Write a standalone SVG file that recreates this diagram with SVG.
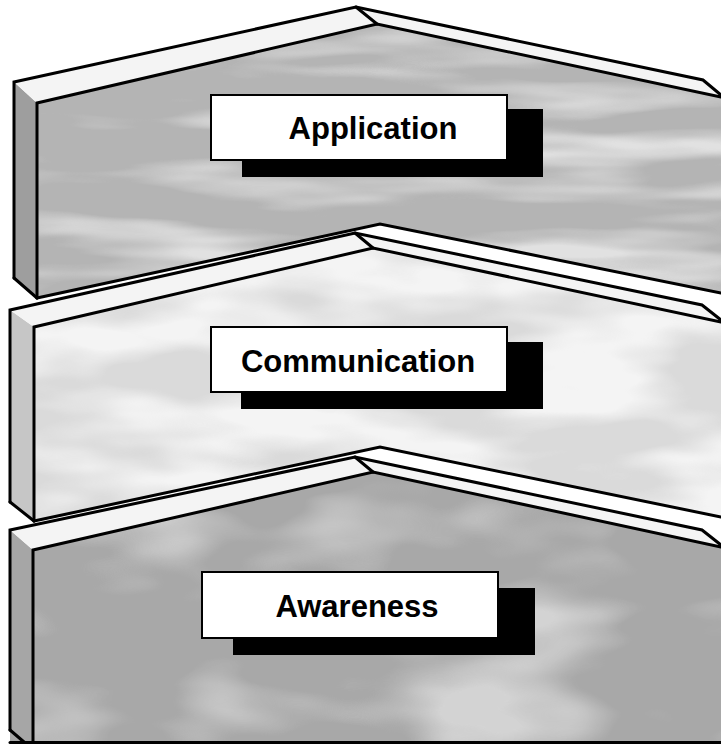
<svg xmlns="http://www.w3.org/2000/svg" width="721" height="744" viewBox="0 0 721 744">
<style>
.edge{fill:none;stroke:#000;stroke-width:3;stroke-linejoin:miter;stroke-linecap:round}
.roof{fill:#f4f4f4}
.side1{fill:#9e9e9e}
.side2{fill:#c6c6c6}
.side3{fill:#a6a6a6}
.front1{fill:#b4b4b4}
.front2{fill:#dadada}
.front3{fill:#a8a8a8}
.tex{fill:#000}
.shadow{fill:#000}
.box{fill:#fff;stroke:#000;stroke-width:2}
.lbl{font-family:"Liberation Sans",Arial,sans-serif;font-weight:bold;font-size:31px;fill:#000;text-anchor:middle}
</style>
<defs>
  <filter id="streak1" filterUnits="userSpaceOnUse" x="0" y="0" width="721" height="744">
    <feTurbulence type="fractalNoise" baseFrequency="0.004 0.03" numOctaves="3" seed="4"/>
    <feColorMatrix type="matrix" values="0 0 0 0 1  0 0 0 0 1  0 0 0 0 1  3 0 0 0 -1.35"/>
    <feComposite in2="SourceAlpha" operator="in"/>
  </filter>
  <filter id="streak2" filterUnits="userSpaceOnUse" x="0" y="0" width="721" height="744">
    <feTurbulence type="fractalNoise" baseFrequency="0.006 0.02" numOctaves="3" seed="9"/>
    <feColorMatrix type="matrix" values="0 0 0 0 1  0 0 0 0 1  0 0 0 0 1  3 0 0 0 -1.1"/>
    <feComposite in2="SourceAlpha" operator="in"/>
  </filter>
  <filter id="streak3" filterUnits="userSpaceOnUse" x="0" y="0" width="721" height="744">
    <feTurbulence type="fractalNoise" baseFrequency="0.005 0.012" numOctaves="3" seed="17"/>
    <feColorMatrix type="matrix" values="0 0 0 0 1  0 0 0 0 1  0 0 0 0 1  3 0 0 0 -1.45"/>
    <feComposite in2="SourceAlpha" operator="in"/>
  </filter>
</defs>
<rect width="721" height="744" fill="#fff"/>

<g id="application">
  <polygon class="side1" points="14,82 37,103 37,298 14,278"/>
  <polygon class="roof" points="14,82 356,7 377,24 37,103"/>
  <polygon class="roof" points="356,7 703,80 721,95 721,97 377,24"/>
  <polygon class="front1" points="37,103 377,24 721,97 721,293 380,224 37,298"/>
  <polygon class="tex" filter="url(#streak1)" opacity="0.6" points="37,103 377,24 721,97 721,293 380,224 37,298"/>
  <polyline class="edge" points="14,278 14,82 356,7 703,80 721,95"/>
  <line class="edge" x1="356" y1="7" x2="377" y2="24"/>
  <polyline class="edge" points="37,298 37,103 377,24 721,97"/>
  <line class="edge" x1="14" y1="278" x2="37" y2="298"/>
  <polyline class="edge" points="37,298 380,224 721,293"/>
  <rect class="shadow" x="242" y="109" width="301" height="68"/>
  <rect class="box" x="211" y="95" width="296" height="65"/>
  <text class="lbl" x="373" y="139">Application</text>
</g>

<g id="communication">
  <polygon class="side2" points="10,310 34,327 34,521 10,502"/>
  <polygon class="roof" points="10,310 355,233 373,248 34,327"/>
  <polygon class="roof" points="355,233 702,305 721,320 721,322 373,248"/>
  <polygon class="front2" points="34,327 373,248 721,322 721,517 380,447 34,521"/>
  <polygon class="tex" filter="url(#streak2)" opacity="0.7" points="34,327 373,248 721,322 721,517 380,447 34,521"/>
  <polyline class="edge" points="10,502 10,310 355,233 702,305 721,320"/>
  <line class="edge" x1="355" y1="233" x2="373" y2="248"/>
  <polyline class="edge" points="34,521 34,327 373,248 721,322"/>
  <line class="edge" x1="10" y1="502" x2="34" y2="521"/>
  <polyline class="edge" points="34,521 380,447 721,517"/>
  <rect class="shadow" x="241" y="342" width="302" height="67"/>
  <rect class="box" x="211" y="327" width="296" height="65"/>
  <text class="lbl" x="358" y="372">Communication</text>
</g>

<g id="awareness">
  <polygon class="side3" points="10,530 33,550 33,744 10,744"/>
  <polygon class="roof" points="10,530 355,457 373,472 33,550"/>
  <polygon class="roof" points="355,457 702,530 721,545 721,547 373,472"/>
  <polygon class="front3" points="33,550 373,472 721,547 721,744 33,744"/>
  <polygon class="tex" filter="url(#streak3)" opacity="0.5" points="33,550 373,472 721,547 721,744 33,744"/>
  <polyline class="edge" points="10,730 10,530 355,457 702,530 721,545"/>
  <line class="edge" x1="355" y1="457" x2="373" y2="472"/>
  <polyline class="edge" points="33,743 33,550 373,472 721,547"/>
  <line class="edge" x1="10" y1="730" x2="24" y2="742"/>
  <line class="edge" x1="10" y1="742.5" x2="721" y2="742.5"/>
  <rect class="shadow" x="233" y="588" width="302" height="67"/>
  <rect class="box" x="202" y="572" width="296" height="66"/>
  <text class="lbl" x="357" y="617">Awareness</text>
</g>
</svg>
